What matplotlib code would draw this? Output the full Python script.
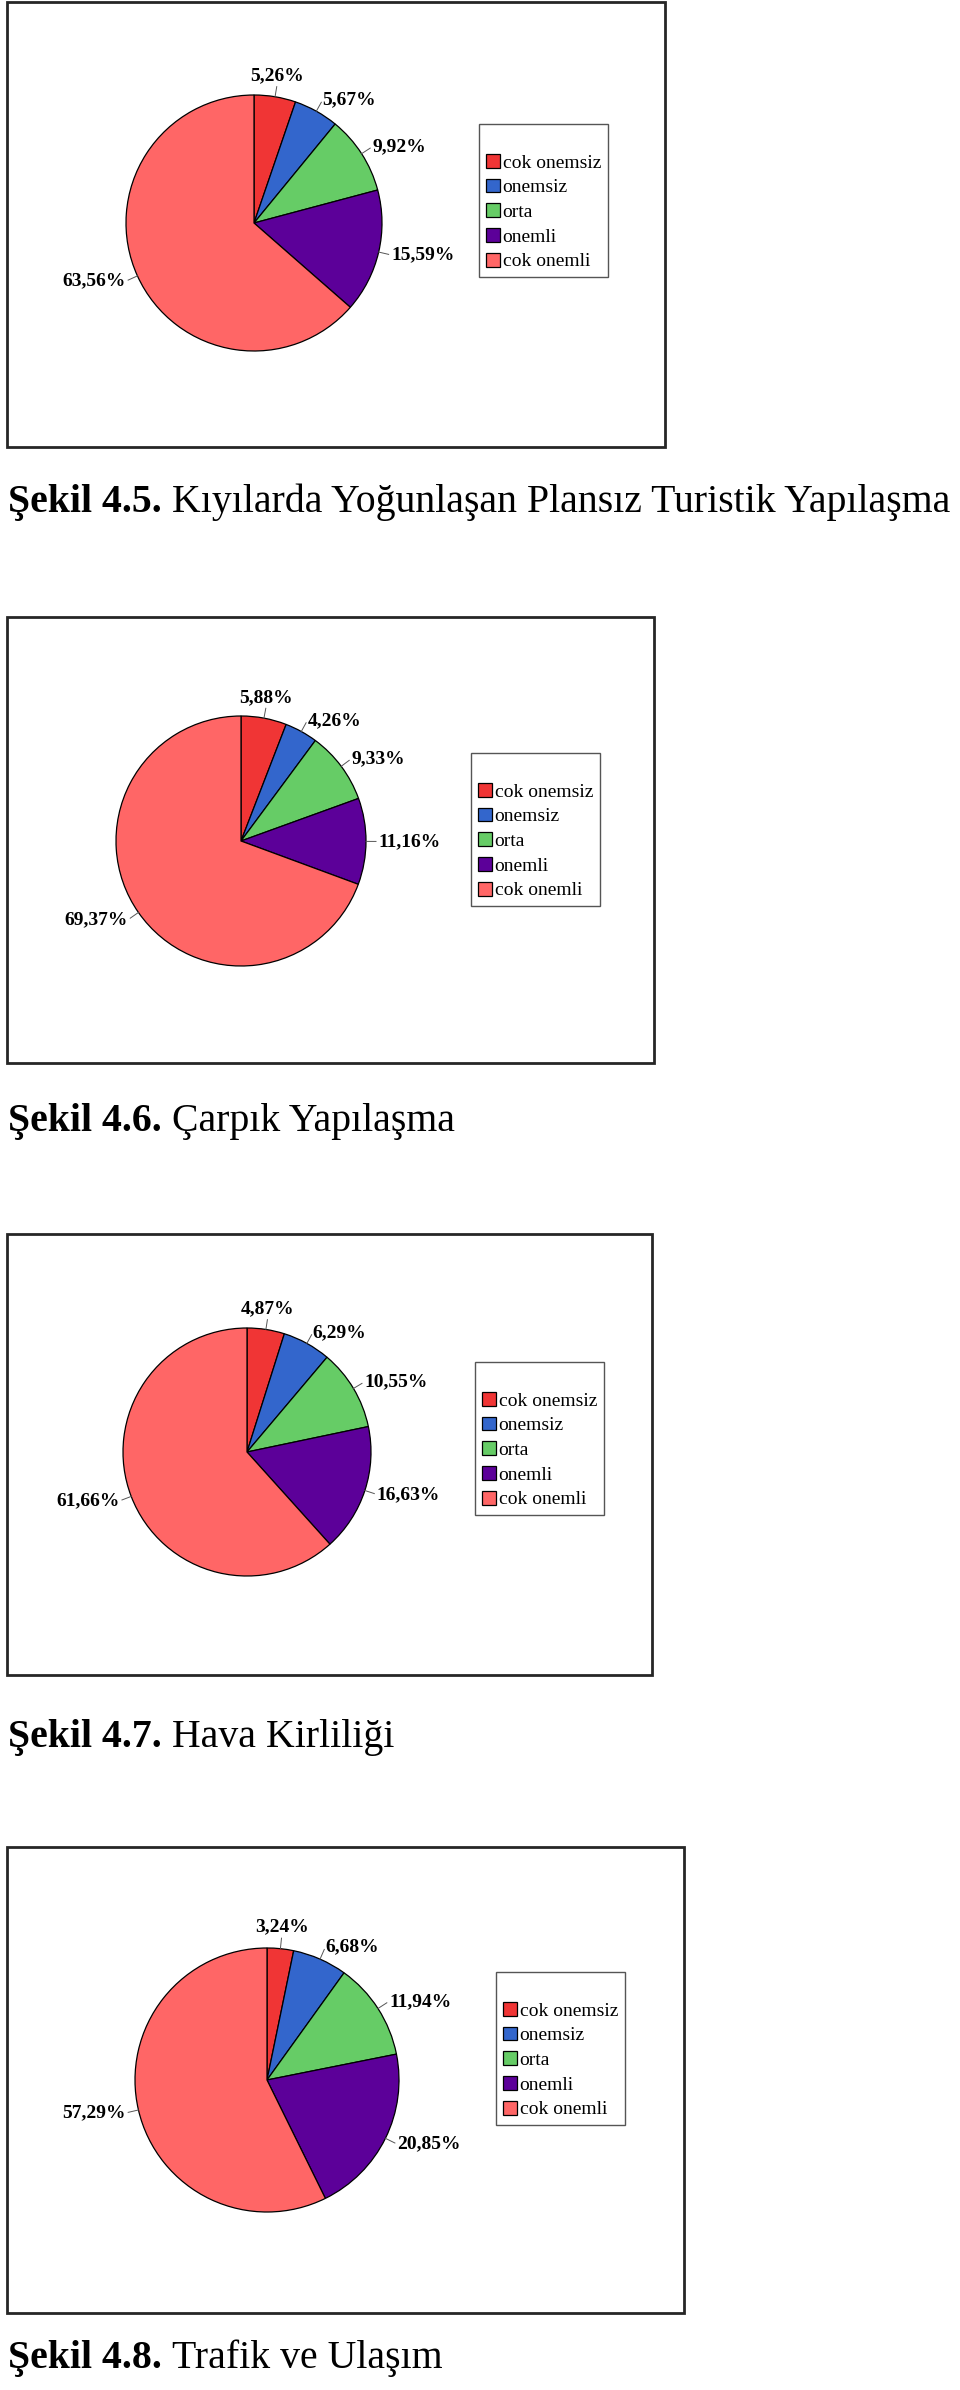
import numpy as np
import matplotlib
matplotlib.use('Agg')
import matplotlib.pyplot as plt
from matplotlib.patches import Rectangle

plt.rcParams['font.family'] = ['Liberation Serif', 'DejaVu Serif']

# Data
categories = ['cok onemsiz', 'onemsiz', 'orta', 'onemli', 'cok onemli']
colors = ['#F03535', '#3366CC', '#66CC66', '#5C0099', '#FF6666']

kiyi_values = [5.26, 5.67, 9.92, 15.59, 63.56]
carpik_values = [5.88, 4.26, 9.33, 11.16, 69.37]
hava_values = [4.87, 6.29, 10.55, 16.63, 61.66]
trafik_values = [3.24, 6.68, 11.94, 20.85, 57.29]

caption_bold = ['Şekil 4.5.', 'Şekil 4.6.', 'Şekil 4.7.', 'Şekil 4.8.']
caption_text = ['Kıyılarda Yoğunlaşan Plansız Turistik Yapılaşma',
                'Çarpık Yapılaşma', 'Hava Kirliliği', 'Trafik ve Ulaşım']

all_values = [kiyi_values, carpik_values, hava_values, trafik_values]

# Layout in pixels (from top-left): frame box, pie centre, pie radius,
# legend top-left corner, caption baseline
W, H = 960, 2390
frames = [(7, 2, 665, 447), (7, 617, 654, 1063), (7, 1234, 652, 1675), (7, 1847, 684, 2313)]
centres = [(254, 223), (241, 841), (247, 1452), (267, 2080)]
radii = [128, 125, 124, 132]
legend_pos = [(479, 124), (471, 753), (475, 1362), (496, 1972)]
caption_y = [512, 1131, 1747, 2368]


def fx(x):
    return x / W


def fy(y):
    return 1 - y / H


fig = plt.figure(figsize=(W / 100, H / 100), dpi=100)
renderer = fig.canvas.get_renderer()

for i, values in enumerate(all_values):
    # outer frame
    x0, y0, x1, y1 = frames[i]
    fig.patches.append(Rectangle((fx(x0), fy(y1)), fx(x1 - x0), (y1 - y0) / H,
                                 transform=fig.transFigure, fill=False,
                                 edgecolor='#262626', linewidth=2))

    # pie axes sized so that radius 1 == r pixels
    cx, cy = centres[i]
    r = radii[i]
    L = 1.6
    ax = fig.add_axes([fx(cx - L * r), fy(cy + L * r), 2 * L * r / W, 2 * L * r / H])
    wedges, _ = ax.pie(values, colors=colors, startangle=90, counterclock=False,
                       wedgeprops=dict(edgecolor='black', linewidth=0.9))
    ax.set_xlim(-L, L)
    ax.set_ylim(-L, L)
    ax.set_aspect('equal')
    ax.axis('off')

    # percentage labels with leader lines
    total = sum(values)
    cum = 0
    for v in values:
        ang = np.deg2rad(90 - 360 * (cum + v / 2) / total)
        cum += v
        c, s = np.cos(ang), np.sin(ang)
        ax.plot([c, 1.08 * c], [s, 1.08 * s], color='#555555', linewidth=0.7)
        if c > 0.3:
            ha, va = 'left', 'center'
        elif c < -0.3:
            ha, va = 'right', 'center'
        else:
            ha, va = 'center', 'bottom' if s > 0 else 'top'
        ax.text(1.1 * c, 1.1 * s, f'{v:.2f}%'.replace('.', ','), ha=ha, va=va,
                fontsize=14, fontweight='bold')

    # legend
    lx, ly = legend_pos[i]
    leg = ax.legend(wedges, categories, loc='upper left',
                    bbox_to_anchor=(fx(lx), fy(ly)), bbox_transform=fig.transFigure,
                    fontsize=14, title=' ', title_fontsize=12, frameon=True,
                    fancybox=False, edgecolor='#555555', framealpha=1,
                    borderpad=0.35, labelspacing=0.36, handlelength=0.72,
                    handleheight=0.72, handletextpad=0.15, borderaxespad=0)
    leg.get_frame().set_linewidth(1.0)

    # caption: bold part then regular part
    t = fig.text(fx(8), fy(caption_y[i]), caption_bold[i], fontsize=28.6,
                 fontweight='bold', va='baseline', ha='left')
    bb = t.get_window_extent(renderer)
    fig.text(fx(bb.x1 + 10), fy(caption_y[i]), caption_text[i], fontsize=28.6,
             va='baseline', ha='left')

fig.savefig('out.png', dpi=100, facecolor='white')
